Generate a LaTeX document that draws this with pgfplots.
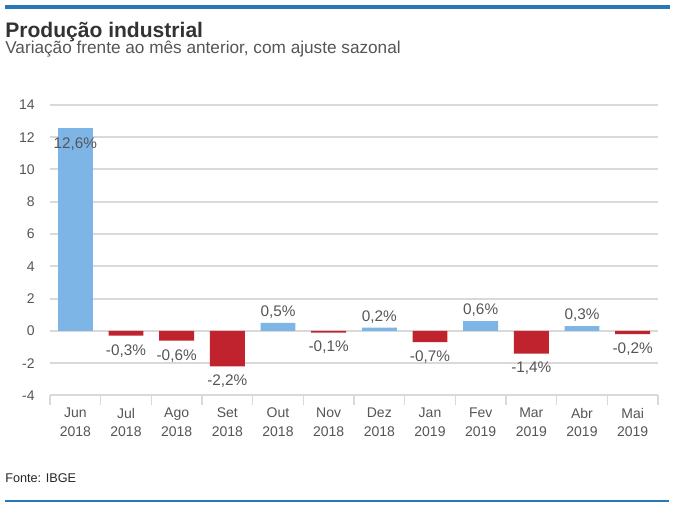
\documentclass[border=0pt]{standalone}
\usepackage{pgfplots}
\pgfplotsset{compat=1.18}
\usepackage{fontspec}
\setmainfont{Liberation Sans}
\definecolor{barblue}{HTML}{7EB5E7}
\definecolor{barred}{HTML}{C1232E}
\definecolor{gridgray}{HTML}{D9D9D9}
\definecolor{txtgray}{HTML}{555555}
\definecolor{rulecol}{HTML}{2878B5}
\newcommand{\pct}{\pgfmathprintnumber[fixed,fixed zerofill,precision=1,use comma,assume math mode=true]{\pgfplotspointmeta}\%}
\begin{document}
\begin{tikzpicture}
\useasboundingbox (0,0) rectangle (506.25pt,381pt);
% header and footer
\draw[rulecol, line width=3pt] (3.75pt,375.4pt) -- (502.5pt,375.4pt);
\node[anchor=base west, inner sep=0, text=black!80, font=\fontsize{15.8}{18}\selectfont\bfseries] at (3.75pt,352.9pt) {Produção industrial};
\node[anchor=base west, inner sep=0, text=txtgray, font=\fontsize{12.9}{14}\selectfont] at (3.75pt,340.5pt) {Variação frente ao mês anterior, com ajuste sazonal};
\node[anchor=base west, inner sep=0, text=black!85, font=\fontsize{9.5}{11}\selectfont] at (3.75pt,19.5pt) {Fonte: IBGE};
\draw[rulecol, line width=1.5pt] (3.75pt,4.9pt) -- (502pt,4.9pt);
\begin{axis}[
  at={(37.5pt,84.4pt)}, anchor=south west,
  scale only axis, width=456pt, height=217.9pt,
  ybar, bar width=0.69,
  xmin=-0.5, xmax=11.5, ymin=-4, ymax=14,
  ytick={-4,-2,...,14},
  xtick={0,...,11},
  xticklabels={{Jun\\2018},{Jul\\2018},{Ago\\2018},{Set\\2018},{Out\\2018},{Nov\\2018},{Dez\\2018},{Jan\\2019},{Fev\\2019},{Mar\\2019},{Abr\\2019},{Mai\\2019}},
  minor xtick={-0.5,0.5,...,11.5},
  xtick pos=left, ytick pos=left,
  major tick length=0pt, minor tick length=7.5pt, tick align=outside,
  minor tick style={gridgray, line width=1pt},
  ymajorgrids, major grid style={gridgray, line width=1.5pt},
  axis line style={draw=none},
  /pgf/number format/assume math mode=true,
  tick label style={text=txtgray, font=\fontsize{10.5}{13.8}\selectfont},
  xticklabel style={align=center, yshift=-6pt},
  yticklabel style={xshift=-8pt},
  clip=false,
  every node near coord/.append style={text=txtgray, font=\fontsize{11.5}{13}\selectfont},
]
% Jun: label inside the bar
\addplot[fill=barblue, draw=none, bar shift=0pt, nodes near coords=\pct,
  every node near coord/.append style={anchor=north, yshift=-4pt}]
  coordinates {(0,12.6)};
% other positive months
\addplot[fill=barblue, draw=none, bar shift=0pt, nodes near coords=\pct]
  coordinates {(4,0.5) (6,0.2) (8,0.6) (10,0.3)};
% negative months
\addplot[fill=barred, draw=none, bar shift=0pt, nodes near coords=\pct,
  every node near coord/.append style={anchor=north, yshift=-3pt}]
  coordinates {(1,-0.3) (2,-0.6) (3,-2.2) (5,-0.1) (7,-0.7) (9,-1.4) (11,-0.2)};
\end{axis}
\end{tikzpicture}
\end{document}
